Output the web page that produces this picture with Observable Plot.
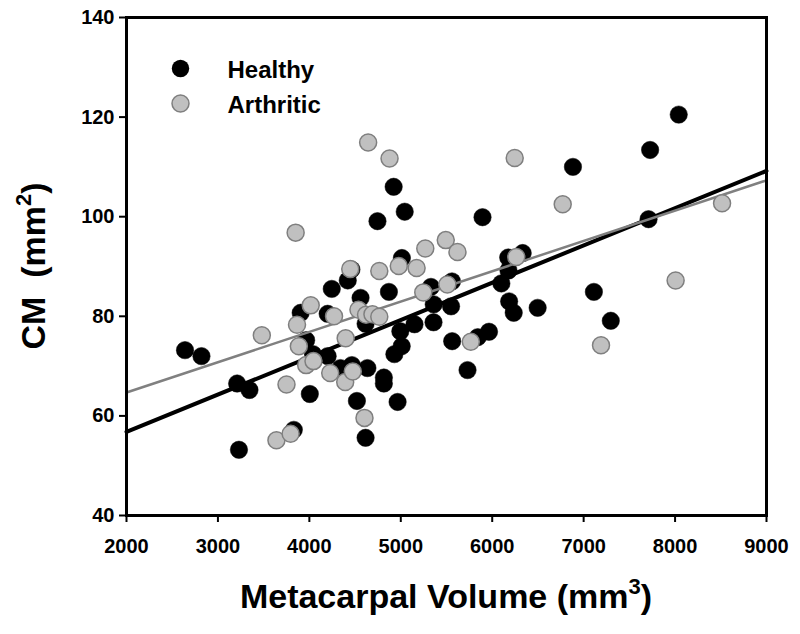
<!DOCTYPE html>
<html>
<head>
<meta charset="utf-8">
<script src="https://cdn.jsdelivr.net/npm/d3@7"></script>
<script src="https://cdn.jsdelivr.net/npm/@observablehq/plot@0.6"></script>
<style>
  html, body { margin: 0; padding: 0; background: white; }
  #chart { width: 800px; height: 634px; }
</style>
</head>
<body>
<div id="chart"></div>
<script>
// ---- Data ----
const healthyVolume = [2640, 2820, 3210, 3345, 3230, 3830, 4005, 3905, 3965, 4040, 4200, 4245, 4200, 4340, 4420, 4460, 4465, 4560, 4615, 4520, 4635, 4615, 4745, 4922, 5043, 5012, 4870, 4815, 4815, 4930, 5010, 4995, 4965, 5150, 5330, 5358, 5360, 5560, 5550, 5562, 5730, 5842, 5894, 5965, 6100, 6178, 6175, 6185, 6235, 6333, 6497, 6883, 7112, 7297, 7710, 7727, 8040];
const healthyCM     = [73.2, 72.0, 66.5, 65.2, 53.2, 57.2, 64.4, 80.7, 75.2, 72.4, 80.5, 85.5, 72.0, 69.6, 87.2, 89.4, 70.2, 83.7, 78.5, 63.0, 69.6, 55.6, 99.1, 106.0, 101.0, 91.7, 84.9, 67.7, 66.5, 72.4, 74.0, 77.0, 62.8, 78.4, 85.9, 78.8, 82.4, 87.0, 82.0, 75.0, 69.2, 75.8, 99.9, 76.9, 86.6, 89.2, 91.8, 83.0, 80.7, 92.7, 81.7, 110.0, 84.9, 79.1, 99.5, 113.4, 120.5];

const arthriticVolume = [3480, 3850, 3865, 3885, 4015, 3965, 4045, 3750, 3640, 3795, 4228, 4270, 4397, 4392, 4447, 4475, 4537, 4643, 4603, 4620, 4690, 4765, 4765, 4877, 4978, 5173, 5268, 5246, 5492, 5509, 5620, 5766, 6246, 6263, 6771, 7190, 8006, 8514];
const arthriticCM     = [76.2, 96.8, 78.3, 74.0, 82.2, 70.2, 71.0, 66.3, 55.1, 56.4, 68.6, 80.0, 75.6, 66.8, 89.5, 68.9, 81.3, 114.9, 59.6, 80.3, 80.4, 79.9, 89.1, 111.7, 90.1, 89.7, 93.6, 84.8, 95.3, 86.4, 92.9, 74.9, 111.8, 91.9, 102.5, 74.2, 87.2, 102.7];

// Fitted lines (end points)
const fitVolume    = [2000, 9000];
const healthyFit   = [56.8, 109.2];
const arthriticFit = [64.7, 107.3];

const xTicks = [2000, 3000, 4000, 5000, 6000, 7000, 8000, 9000];
const yTicks = [40, 60, 80, 100, 120, 140];
const seriesNames = ["Healthy", "Arthritic"];

// ---- Tables built from the arrays ----
const healthy = healthyVolume.map((v, i) => ({volume: v, cm: healthyCM[i]}));
const arthritic = arthriticVolume.map((v, i) => ({volume: v, cm: arthriticCM[i]}));
const healthyLine = fitVolume.map((v, i) => ({volume: v, cm: healthyFit[i]}));
const arthriticLine = fitVolume.map((v, i) => ({volume: v, cm: arthriticFit[i]}));

const W = 800, H = 634;
const mL = 126, mR = 34, mT = 17, mB = 119;
const grayFill = "#c0c0c0", grayStroke = "#7f7f7f";

const chart = Plot.plot({
  width: W, height: H,
  marginLeft: mL, marginRight: mR, marginTop: mT, marginBottom: mB,
  style: {fontFamily: "'Liberation Sans', Arial, sans-serif", fontWeight: "bold", fontSize: "20px", color: "black", background: "white"},
  x: {domain: [2000, 9000]},
  y: {domain: [40, 140]},
  marks: [
    Plot.axisX(xTicks, {tickSize: 7, tickPadding: 16, strokeWidth: 2, label: null, tickFormat: d => String(d), fontSize: 20, fontWeight: "bold"}),
    Plot.axisY(yTicks, {tickSize: 7, tickPadding: 5, strokeWidth: 2, label: null, tickFormat: d => String(d), fontSize: 20, fontWeight: "bold"}),
    Plot.dot(healthy, {x: "volume", y: "cm", r: 8.7, fill: "black", stroke: "black", strokeWidth: 0.5}),
    Plot.line(healthyLine, {x: "volume", y: "cm", stroke: "black", strokeWidth: 4}),
    Plot.line(arthriticLine, {x: "volume", y: "cm", stroke: "#808080", strokeWidth: 2.5}),
    Plot.dot(arthritic, {x: "volume", y: "cm", r: 8.5, fill: grayFill, stroke: grayStroke, strokeWidth: 1.5}),
    // legend
    Plot.dot([seriesNames[0]], {frameAnchor: "top-left", dx: 54, dy: 51, r: 8.7, fill: "black"}),
    Plot.dot([seriesNames[1]], {frameAnchor: "top-left", dx: 54, dy: 86, r: 8.5, fill: grayFill, stroke: grayStroke, strokeWidth: 1.5}),
    Plot.text([seriesNames[0]], {text: d => d, frameAnchor: "top-left", dx: 101, dy: 53, textAnchor: "start", lineAnchor: "middle", fontSize: 24, fontWeight: "bold", fill: "black"}),
    Plot.text([seriesNames[1]], {text: d => d, frameAnchor: "top-left", dx: 101, dy: 88, textAnchor: "start", lineAnchor: "middle", fontSize: 24, fontWeight: "bold", fill: "black"}),
    Plot.frame({stroke: "black", strokeWidth: 3})
  ]
});

document.getElementById("chart").appendChild(chart);

// Axis titles with superscripts
const svg = d3.select(chart);
const xt = svg.append("text")
  .attr("x", mL + (W - mL - mR) / 2)
  .attr("y", 608)
  .attr("text-anchor", "middle")
  .style("font-family", "'Liberation Sans', Arial, sans-serif")
  .style("font-weight", "bold")
  .style("font-size", "34px")
  .attr("fill", "black");
xt.append("tspan").text("Metacarpal Volume (mm");
xt.append("tspan").attr("dy", -14).style("font-size", "22px").text("3");
xt.append("tspan").attr("dy", 14).text(")");

const yt = svg.append("text")
  .attr("transform", `translate(45, ${mT + (H - mT - mB) / 2}) rotate(-90)`)
  .attr("text-anchor", "middle")
  .style("font-family", "'Liberation Sans', Arial, sans-serif")
  .style("font-weight", "bold")
  .style("font-size", "34px")
  .attr("fill", "black");
yt.append("tspan").text("CM  (mm");
yt.append("tspan").attr("dy", -14).style("font-size", "22px").text("2");
yt.append("tspan").attr("dy", 14).text(")");
</script>
</body>
</html>
